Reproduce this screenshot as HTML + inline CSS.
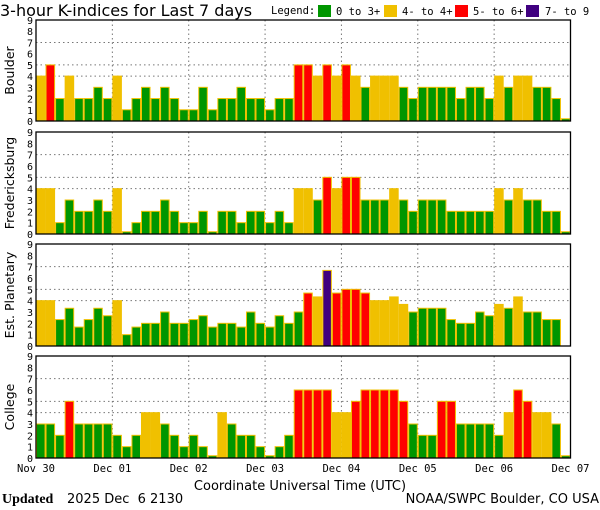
<!DOCTYPE html>
<html><head><meta charset="utf-8"><style>
body{margin:0;background:#fff;width:600px;height:510px;overflow:hidden}
svg{display:block;font-family:"DejaVu Sans Mono","Liberation Mono",monospace}
</style></head><body>
<svg id="s" width="600" height="510" xmlns="http://www.w3.org/2000/svg">
<text x="0" y="16" font-size="16" font-family="DejaVu Sans, sans-serif">3-hour K-indices for Last 7 days</text>
<text x="271" y="14" font-size="10.5">Legend:</text>
<rect x="318" y="5" width="13" height="12" fill="#009600"/><text x="336" y="15" font-size="10.5">0 to 3+</text>
<rect x="384" y="5" width="13" height="12" fill="#f0c000"/><text x="402" y="15" font-size="10.5">4- to 4+</text>
<rect x="455" y="5" width="13" height="12" fill="#ff0000"/><text x="473" y="15" font-size="10.5">5- to 6+</text>
<rect x="526" y="5" width="13" height="12" fill="#400080"/><text x="545" y="15" font-size="10.5">7- to 9</text>
<text x="300" y="490" font-size="13" text-anchor="middle" font-family="DejaVu Sans, sans-serif">Coordinate Universal Time (UTC)</text>
<text x="2" y="503" font-size="14" font-family="Liberation Serif, serif" font-weight="bold">Updated</text>
<text x="67" y="503" font-size="13" font-family="DejaVu Sans, sans-serif" xml:space="preserve">2025 Dec  6 2130</text>
<text x="599" y="503" font-size="13" text-anchor="end" font-family="DejaVu Sans, sans-serif">NOAA/SWPC Boulder, CO USA</text>
</svg>
<script>
var s=document.getElementById('s'),NS="http://www.w3.org/2000/svg";
function el(t,a,txt){var e=document.createElementNS(NS,t);for(var k in a)e.setAttribute(k,a[k]);if(txt!=null)e.textContent=txt;s.appendChild(e);return e;}
var L=36,R=570.5,bw=(R-L)/56;
var panels=[
{n:"Boulder",t:20,b:121,v:[4,5,2,4,2,2,3,2,4,1,2,3,2,3,2,1,1,3,1,2,2,3,2,2,1,2,2,5,5,4,5,4,5,4,3,4,4,4,3,2,3,3,3,3,2,3,3,2,4,3,4,4,3,3,2,0.2]},
{n:"Fredericksburg",t:132,b:234,v:[4,4,1,3,2,2,3,2,4,0.2,1,2,2,3,2,1,1,2,0.2,2,2,1,2,2,1,2,1,4,4,3,5,4,5,5,3,3,3,4,3,2,3,3,3,2,2,2,2,2,4,3,4,3,3,2,2,0.2]},
{n:"Est. Planetary",t:244,b:346,v:[4,4,2.33,3.33,1.67,2.33,3.33,2.67,4,1,1.67,2,2,3,2,2,2.33,2.67,1.67,2,2,1.67,3,2,1.67,2.67,2,3,4.67,4.33,6.67,4.67,5,5,4.67,4,4,4.33,3.67,3,3.33,3.33,3.33,2.33,2,2,3,2.67,3.67,3.33,4.33,3,3,2.33,2.33,0]},
{n:"College",t:356,b:458,v:[3,3,2,5,3,3,3,3,2,1,2,4,4,3,2,1,2,1,0.2,4,3,2,2,1,0.2,1,2,6,6,6,6,4,4,5,6,6,6,6,5,3,2,2,5,5,3,3,3,3,2,4,6,5,4,4,3,0.2]}
];
function col(v){return v<3.6?"#009600":v<4.6?"#f0c000":v<6.6?"#ff0000":"#400080";}
panels.forEach(function(p,pi){
 var u=(p.b-p.t)/9;
 [4,5,7].forEach(function(k){var y=p.b-k*u;el('line',{x1:L,x2:R,y1:y,y2:y,stroke:"#777","stroke-dasharray":"1.5,3"});});
 for(var d=1;d<7;d++){var x=L+d*8*bw;el('line',{x1:x,x2:x,y1:p.t,y2:p.b,stroke:"#777","stroke-dasharray":"1.5,3"});}
 p.v.forEach(function(v,i){if(v<=0)return;var h=v*u;el('rect',{x:L+i*bw+0.5,y:p.b-h,width:bw-1,height:h,fill:col(v),stroke:"#f0c000","stroke-width":1});});
 el('rect',{x:L,y:p.t,width:R-L,height:p.b-p.t,fill:"none",stroke:"#000","stroke-width":1.3});
 for(var k=0;k<=9;k++)el('text',{x:33,y:p.b-k*u+4,"font-size":10,"text-anchor":"end"},k);
 var cy=(p.t+p.b)/2;
 el('text',{x:0,y:0,"font-size":12.5,"text-anchor":"middle","font-family":"DejaVu Sans, sans-serif",transform:"translate(14,"+cy+") rotate(-90)"},p.n);
});
["Nov 30","Dec 01","Dec 02","Dec 03","Dec 04","Dec 05","Dec 06","Dec 07"].forEach(function(t,d){
 el('text',{x:L+d*8*bw,y:472,"font-size":10.5,"text-anchor":"middle"},t);});
</script>
</body></html>
